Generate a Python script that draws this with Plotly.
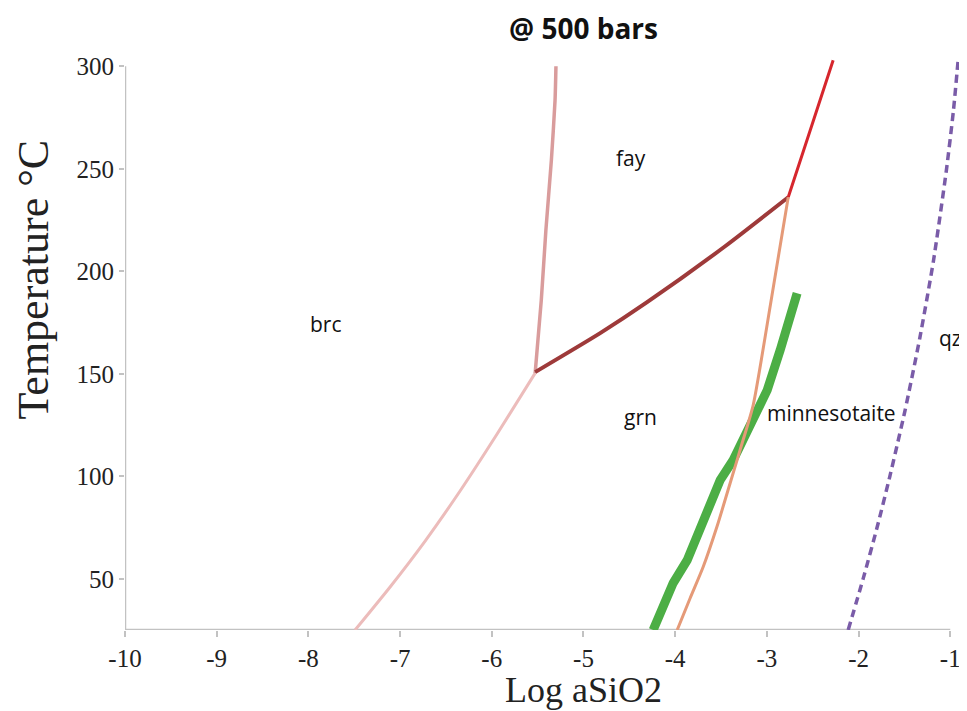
import plotly.graph_objects as go

# ---- data (Log aSiO2, Temperature °C) ----
brc_grn_x = [-7.491, -7.109, -6.727, -6.346, -5.942, -5.527]
brc_grn_t = [25.0, 46.0, 68.4, 92.8, 120.6, 150.3]

brc_fay_x = [-5.527, -5.46, -5.41, -5.35, -5.31, -5.30]
brc_fay_t = [150.3, 185.9, 220, 254.2, 283.4, 300]

fay_grn_x = [-5.527, -4.818, -4.306, -3.455, -2.767]
fay_grn_t = [150.8, 169.8, 184.9, 212.2, 236.1]

fay_min_x = [-2.767, -2.527, -2.277]
fay_min_t = [236.1, 268.8, 302.9]

grn_min_x = [-3.978, -3.836, -3.695, -3.542, -3.40, -3.269, -3.149, -2.953, -2.767]
grn_min_t = [25.0, 40.6, 55.7, 75.7, 96.7, 116.2, 134.7, 185.9, 236.1]

green_x = [-4.24, -4.022, -3.869, -3.695, -3.509, -3.367, -3.149, -2.996, -2.855, -2.67]
green_t = [25, 47.9, 59.1, 77.2, 98.1, 107.9, 128.9, 142.0, 161.5, 189.3]

qz_x = [-2.113, -1.948, -1.794, -1.658, -1.492, -1.332, -1.182, -1.042, -0.965, -0.912]
qz_t = [25.0, 50.3, 75.7, 100.1, 132.3, 167.4, 205.4, 249.3, 278.5, 303.9]

x_ticks = [-10, -9, -8, -7, -6, -5, -4, -3, -2, -1]
y_ticks = [50, 100, 150, 200, 250, 300]

region_labels = ["fay", "brc", "grn", "minnesotaite", "qz"]
region_x = [-4.48, -7.81, -4.38, -2.30, -1.0]
region_t = [255.1, 174.2, 128.9, 130.8, 167.4]

fig = go.Figure()

def add(x, y, color, width, shape="spline", dash="solid", smooth=0.6):
    line = dict(color=color, width=width, shape=shape, dash=dash)
    if shape == "spline":
        line["smoothing"] = smooth
    fig.add_trace(go.Scatter(x=x, y=y, mode="lines", line=line,
                             hoverinfo="skip", showlegend=False))

add(brc_grn_x, brc_grn_t, "#ecbcbb", 3)
add(brc_fay_x, brc_fay_t, "#d99c9c", 3.5)
add(fay_grn_x, fay_grn_t, "#9e3a3a", 4)
add(fay_min_x, fay_min_t, "#d6262d", 3)
add(green_x, green_t, "#4cae45", 9, shape="linear")
add(grn_min_x, grn_min_t, "#e59a78", 3)
add(qz_x, qz_t, "#7a5ca8", 3.5, dash="8px,5px")

axis_col = "#c2c2c2"
fig.add_shape(type="line", xref="x", yref="y", x0=-10, x1=-1, y0=25, y1=25,
              line=dict(color=axis_col, width=2.5), layer="below")
fig.add_shape(type="line", xref="x", yref="y", x0=-10, x1=-10, y0=25, y1=300,
              line=dict(color=axis_col, width=2.5), layer="below")

for lab, lx, ly in zip(region_labels, region_x, region_t):
    fig.add_annotation(x=lx, y=ly, text=lab, showarrow=False,
                       font=dict(family="Open Sans", size=21, color="#111"))

fig.add_annotation(x=-5.0, xref="x", y=1, yref="paper", yshift=28, yanchor="middle",
                   text="<b>@ 500 bars</b>", showarrow=False,
                   font=dict(family="Open Sans", size=28, color="#111"))
fig.add_annotation(x=-5.0, xref="x", y=0, yref="paper", yshift=-60, yanchor="middle",
                   text="Log aSiO2", showarrow=False,
                   font=dict(family="Liberation Serif", size=36, color="#222"))
fig.add_annotation(x=0, xref="paper", xshift=-92, xanchor="center", y=196, yref="y",
                   text="Temperature °C", textangle=-90, showarrow=False,
                   font=dict(family="Liberation Serif", size=44, color="#222"))

fig.update_xaxes(range=[-10, -0.85], tickvals=x_ticks, ticktext=[str(v) for v in x_ticks],
                 showgrid=False, zeroline=False, showline=False, automargin=False,
                 ticks="outside", ticklen=6, tickwidth=1.5, tickcolor=axis_col,
                 tickfont=dict(family="Liberation Serif", size=25, color="#222"))
fig.update_yaxes(range=[25, 305], tickvals=y_ticks, ticktext=[str(v) for v in y_ticks],
                 showgrid=False, zeroline=False, showline=False, automargin=False,
                 ticks="outside", ticklen=5, tickwidth=1.5, tickcolor=axis_col,
                 tickfont=dict(family="Liberation Serif", size=25, color="#222"))

fig.update_layout(width=959, height=703, plot_bgcolor="white", paper_bgcolor="white",
                  margin=dict(l=117, r=3, t=48, b=81, autoexpand=False), showlegend=False)

fig.write_html("out.html")
